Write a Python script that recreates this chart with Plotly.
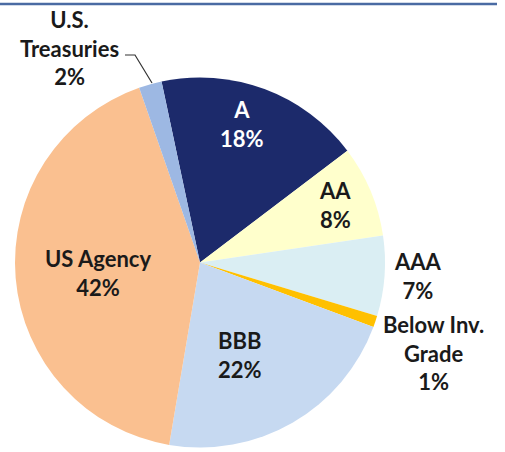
import plotly.graph_objects as go

# Data
labels = ["A", "AA", "AAA", "Below Inv.<br>Grade", "BBB", "US Agency", "U.S.<br>Treasuries"]
values = [18, 8, 7, 1, 22, 42, 2]
colors = ["#1C2A6B", "#FFFFCC", "#DAEEF3", "#FFC000", "#C6D9F1", "#FAC090", "#9DB8E3"]

W, H = 505, 452

def px(x):
    return x / W

def py(y):
    return 1 - y / H

# label centres (pixel positions in the picture) and text colours
label_pos = [(242, 124), (335, 205), (418, 276), (433, 353), (240, 355), (98, 273), (69, 48)]
label_col = ["white", "#1a1a1a", "#1a1a1a", "#1a1a1a", "#1a1a1a", "#1a1a1a", "#1a1a1a"]

fig = go.Figure(go.Pie(
    labels=labels,
    values=values,
    sort=False,
    direction="clockwise",
    rotation=-12,
    marker=dict(colors=colors, line=dict(width=0)),
    textinfo="none",
    hoverinfo="label+percent",
    showlegend=False,
    domain=dict(x=[px(15), px(385)], y=[py(447.5), py(77.5)]),
))

annotations = []
for lab, v, (x, y), c in zip(labels, values, label_pos, label_col):
    annotations.append(dict(
        x=px(x), y=py(y), xref="paper", yref="paper",
        text=f"{lab}<br>{v}%", showarrow=False,
        font=dict(family="Lato, 'Open Sans', sans-serif", size=22, color=c, weight="bold"),
        align="center", xanchor="center", yanchor="middle",
    ))

shapes = [
    dict(type="line", xref="paper", yref="paper", x0=px(0), x1=px(497), y0=py(4), y1=py(4),
         line=dict(color="#4A6BA3", width=2.5)),
    dict(type="path", xref="paper", yref="paper",
         path=f"M {px(125)},{py(55)} L {px(135)},{py(55)} L {px(152)},{py(83)}",
         line=dict(color="#333333", width=1.2)),
]

fig.update_layout(
    width=W, height=H,
    margin=dict(l=0, r=0, t=0, b=0),
    paper_bgcolor="white",
    plot_bgcolor="white",
    annotations=annotations,
    shapes=shapes,
)

fig.write_html("out.html", config={"displayModeBar": False},
               post_script="document.body.style.margin='0';")
